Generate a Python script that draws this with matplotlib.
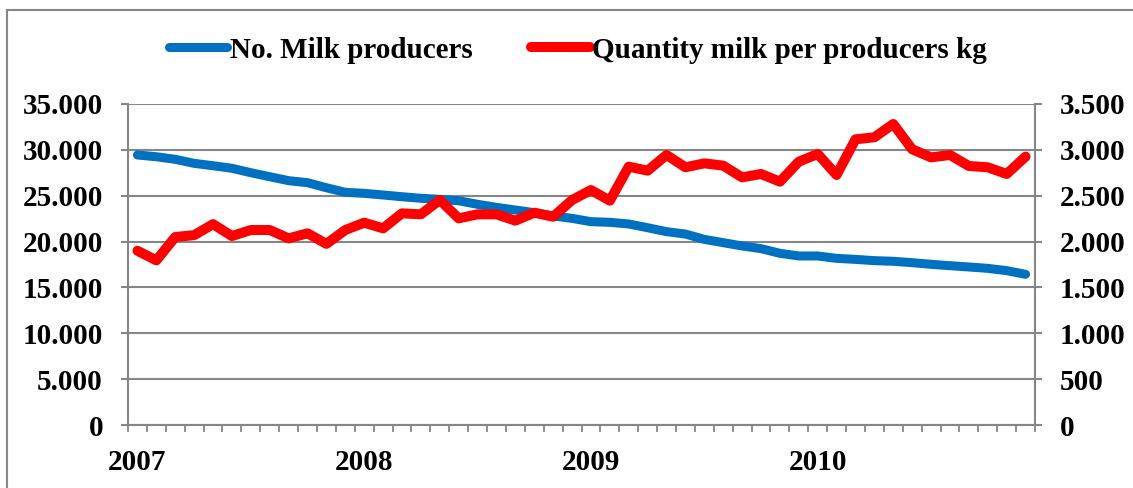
import numpy as np
import matplotlib
matplotlib.use("Agg")
import matplotlib.pyplot as plt
from matplotlib.ticker import FuncFormatter
from matplotlib.lines import Line2D

# monthly data, Jan 2007 - Dec 2010
years = ["2007", "2008", "2009", "2010"]

producers = [29440, 29250, 28970, 28530, 28270, 27990, 27510, 27070, 26640, 26420,
             25870, 25370, 25260, 25080, 24890, 24720, 24600, 24450, 24060, 23730,
             23440, 23150, 22790, 22530, 22170, 22100, 21920, 21510, 21080, 20820,
             20240, 19880, 19520, 19230, 18720, 18430, 18430, 18170, 18060, 17920,
             17850, 17700, 17520, 17370, 17230, 17080, 16830, 16430]

milk_per_producer = [1900, 1795, 2050, 2070, 2190, 2060, 2126, 2126, 2035, 2090,
                     1975, 2126, 2206, 2144, 2308, 2297, 2453, 2253, 2297, 2297,
                     2228, 2315, 2271, 2453, 2562, 2446, 2817, 2773, 2944, 2810,
                     2853, 2828, 2700, 2737, 2653, 2871, 2955, 2726, 3115, 3137,
                     3282, 3006, 2918, 2944, 2824, 2810, 2737, 2926]

plt.rcParams["font.family"] = ["Liberation Serif", "DejaVu Serif"]
plt.rcParams["font.weight"] = "bold"
plt.rcParams["font.size"] = 21

grey = "#868686"
x = np.arange(len(producers))

fig = plt.figure(figsize=(11.33, 4.88), dpi=100)
ax = fig.add_axes([128 / 1133, 63 / 488, 907 / 1133, 321 / 488])
ax2 = ax.twinx()

ax.plot(x, producers, color="#0070C0", lw=6.5, solid_capstyle="round",
        solid_joinstyle="round", label="No. Milk producers")
ax2.plot(x, milk_per_producer, color="#FF0000", lw=7.2, solid_capstyle="round",
         solid_joinstyle="round", label="Quantity milk per producers kg")

dot_fmt = FuncFormatter(lambda v, p: f"{int(round(v)):,}".replace(",", "."))

ax.set_xlim(-0.5, len(x) - 0.5)
ax.set_ylim(0, 35000)
ax.set_yticks(np.arange(0, 35001, 5000))
ax.yaxis.set_major_formatter(dot_fmt)
ax2.set_ylim(0, 3500)
ax2.set_yticks(np.arange(0, 3501, 500))
ax2.yaxis.set_major_formatter(dot_fmt)

ax.yaxis.grid(True, color=grey, lw=1.5)
ax.set_axisbelow(True)

# month boundaries as major ticks, years as unlabeled-tick minor labels
ax.set_xticks(np.arange(-0.5, len(x), 1))
ax.set_xticklabels([])
ax.set_xticks([0, 12, 24, 36], years, minor=True)
ax.tick_params(axis="x", which="major", direction="out", length=5, width=1.3, color=grey)
ax.tick_params(axis="x", which="minor", length=0, pad=17)

ax.tick_params(axis="y", direction="out", length=5, width=1.5, color=grey, pad=13)
ax2.tick_params(axis="y", direction="out", length=5, width=1.5, color=grey, pad=13)

for a in (ax, ax2):
    for s in a.spines.values():
        s.set_visible(False)
for side in ("left", "bottom"):
    ax.spines[side].set_visible(True)
    ax.spines[side].set_color(grey)
    ax.spines[side].set_linewidth(1.5)
ax2.spines["right"].set_visible(True)
ax2.spines["right"].set_color(grey)
ax2.spines["right"].set_linewidth(1.5)

h1, l1 = ax.get_legend_handles_labels()
h2, l2 = ax2.get_legend_handles_labels()
fig.legend(h1 + h2, l1 + l2, loc="center", bbox_to_anchor=(578 / 1133, 1 - 50 / 488),
           ncol=2, frameon=False, handlelength=2.0, handletextpad=0.1,
           columnspacing=2.0, prop={"family": "Liberation Serif", "weight": "bold", "size": 21})

# chart area border (top and left edges)
fig.add_artist(Line2D([7 / 1133, 7 / 1133], [0, 1 - 10 / 488], transform=fig.transFigure,
                      color=grey, lw=1.5))
fig.add_artist(Line2D([7 / 1133, 1], [1 - 10 / 488, 1 - 10 / 488], transform=fig.transFigure,
                      color=grey, lw=1.5))

fig.savefig("out.png", dpi=100)
